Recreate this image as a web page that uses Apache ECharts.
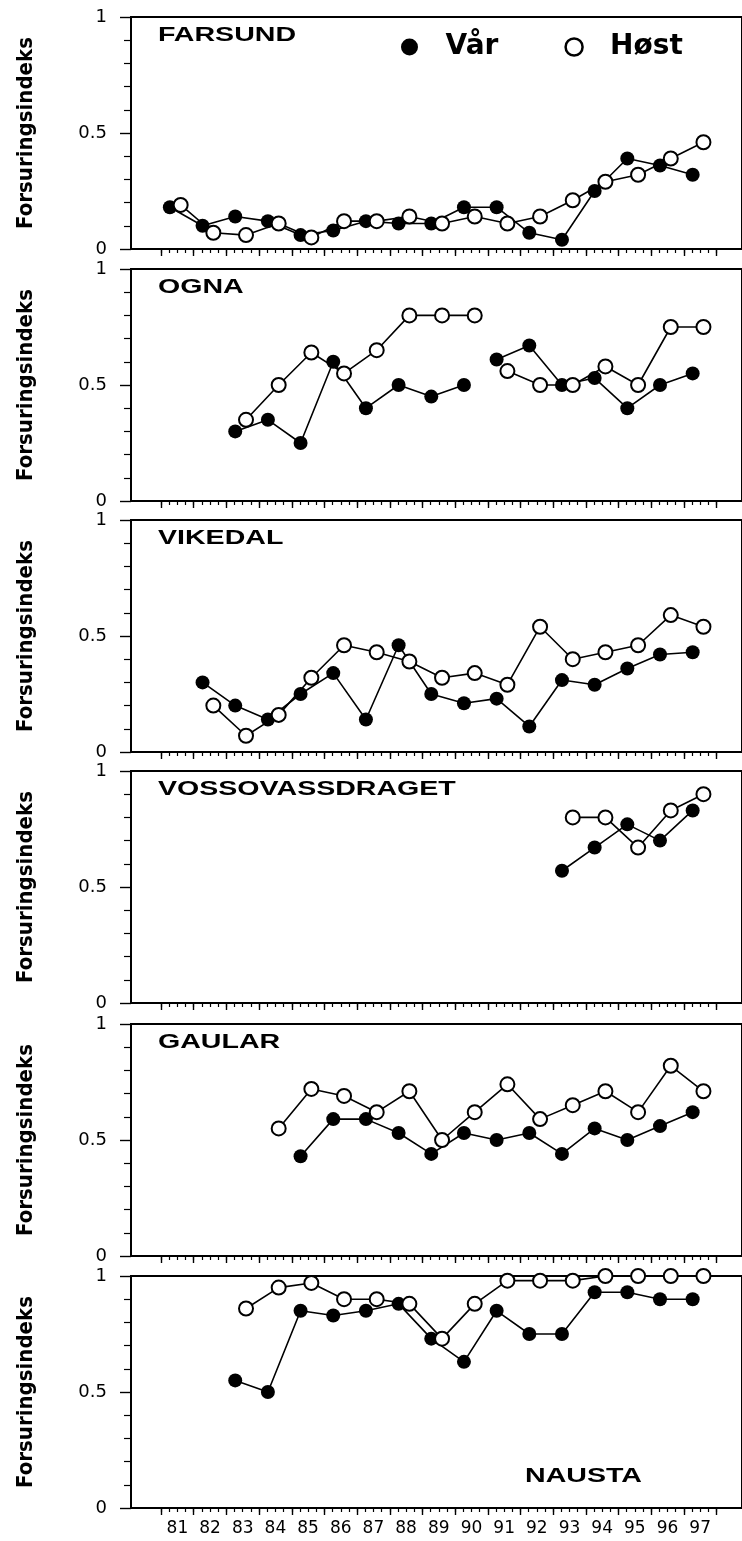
<!DOCTYPE html>
<html>
<head>
<meta charset="utf-8">
<script src="https://cdn.jsdelivr.net/npm/echarts@6.0.0/dist/echarts.min.js"></script>
<style>
  html, body { margin: 0; padding: 0; background: #fff; }
  #chart { width: 742px; height: 1541px; }
</style>
</head>
<body>
<div id="chart"></div>
<script>
// prøveår, en verdi per år (null = ingen prøve)
const years = [1981, 1982, 1983, 1984, 1985, 1986, 1987, 1988, 1989, 1990, 1991, 1992, 1993, 1994, 1995, 1996, 1997];
const yearLabels = ['81', '82', '83', '84', '85', '86', '87', '88', '89', '90', '91', '92', '93', '94', '95', '96', '97'];

// vår-prøve tidlig i året, høst-prøve senere
const varOffset = 0.27;
const hostOffset = 0.6;

const farsundVar  = [0.18, 0.10, 0.14, 0.12, 0.06, 0.08, 0.12, 0.11, 0.11, 0.18, 0.18, 0.07, 0.04, 0.25, 0.39, 0.36, 0.32];
const farsundHost = [0.19, 0.07, 0.06, 0.11, 0.05, 0.12, 0.12, 0.14, 0.11, 0.14, 0.11, 0.14, 0.21, 0.29, 0.32, 0.39, 0.46];

const ognaVar  = [null, null, 0.30, 0.35, 0.25, 0.60, 0.40, 0.50, 0.45, 0.50, 0.61, 0.67, 0.50, 0.53, 0.40, 0.50, 0.55];
const ognaHost = [null, null, 0.35, 0.50, 0.64, 0.55, 0.65, 0.80, 0.80, 0.80, 0.56, 0.50, 0.50, 0.58, 0.50, 0.75, 0.75];
const ognaGapAfter = 1990; // linja er brutt mellom 90 og 91

const vikedalVar  = [null, 0.30, 0.20, 0.14, 0.25, 0.34, 0.14, 0.46, 0.25, 0.21, 0.23, 0.11, 0.31, 0.29, 0.36, 0.42, 0.43];
const vikedalHost = [null, 0.20, 0.07, 0.16, 0.32, 0.46, 0.43, 0.39, 0.32, 0.34, 0.29, 0.54, 0.40, 0.43, 0.46, 0.59, 0.54];

const vossVar  = [null, null, null, null, null, null, null, null, null, null, null, null, 0.57, 0.67, 0.77, 0.70, 0.83];
const vossHost = [null, null, null, null, null, null, null, null, null, null, null, null, 0.80, 0.80, 0.67, 0.83, 0.90];

const gaularVar  = [null, null, null, null, 0.43, 0.59, 0.59, 0.53, 0.44, 0.53, 0.50, 0.53, 0.44, 0.55, 0.50, 0.56, 0.62];
const gaularHost = [null, null, null, 0.55, 0.72, 0.69, 0.62, 0.71, 0.50, 0.62, 0.74, 0.59, 0.65, 0.71, 0.62, 0.82, 0.71];

const naustaVar  = [null, null, 0.55, 0.50, 0.85, 0.83, 0.85, 0.88, 0.73, 0.63, 0.85, 0.75, 0.75, 0.93, 0.93, 0.90, 0.90];
const naustaHost = [null, null, 0.86, 0.95, 0.97, 0.90, 0.90, 0.88, 0.73, 0.88, 0.98, 0.98, 0.98, 1.00, 1.00, 1.00, 1.00];

const panels = [
  { name: 'FARSUND', vr: farsundVar, hs: farsundHost, gap: null },
  { name: 'OGNA', vr: ognaVar, hs: ognaHost, gap: ognaGapAfter },
  { name: 'VIKEDAL', vr: vikedalVar, hs: vikedalHost, gap: null },
  { name: 'VOSSOVASSDRAGET', vr: vossVar, hs: vossHost, gap: null },
  { name: 'GAULAR', vr: gaularVar, hs: gaularHost, gap: null },
  { name: 'NAUSTA', vr: naustaVar, hs: naustaHost, gap: null }
];

const tops = [17, 269, 520, 771, 1024, 1276];
const panelH = 232;
const xMin = 1980.08, xMax = 1998.78;

// kvartalsstreker og årsstreker på x-aksen
const quarterTicks = [];
const yearTicks = [];
for (let y = 1981; y <= 1998; y++) {
  yearTicks.push(y);
  for (let q = 0; q < 4 && !(y === 1998 && q > 0); q++) quarterTicks.push(y + q * 0.25);
}

function toPoints(vals, offset, gapAfter) {
  const pts = [];
  years.forEach((yr, i) => {
    pts.push([yr + offset, vals[i] == null ? '-' : vals[i]]);
    if (yr === gapAfter) pts.push([yr + 0.8, '-']);
  });
  return pts;
}

const numFont = '"DejaVu Sans", sans-serif';
const grids = [], xAxes = [], yAxes = [], series = [], texts = [];

panels.forEach((p, i) => {
  const last = i === panels.length - 1;
  grids.push({
    left: 131, right: -8, top: tops[i], height: panelH,
    show: true, borderColor: '#000', borderWidth: 2
  });
  xAxes.push({
    type: 'value', gridIndex: i, position: 'bottom', min: xMin, max: xMax,
    axisLine: { show: true, onZero: false, lineStyle: { color: '#000', width: 1.5 } },
    axisTick: { show: true, customValues: quarterTicks, length: 4, lineStyle: { color: '#000', width: 1.2 } },
    axisLabel: {
      show: last,
      customValues: years.map(y => y + 0.5),
      formatter: v => yearLabels[years.indexOf(Math.round(v - 0.5))],
      color: '#000', fontSize: 17, fontFamily: numFont, margin: 12
    },
    splitLine: { show: false }
  });
  xAxes.push({
    type: 'value', gridIndex: i, position: 'bottom', min: xMin, max: xMax,
    axisLine: { show: false, onZero: false },
    axisTick: { show: true, customValues: yearTicks, length: 7, lineStyle: { color: '#000', width: 1.4 } },
    axisLabel: { show: false },
    splitLine: { show: false }
  });
  yAxes.push({
    type: 'value', gridIndex: i, min: 0, max: 1, interval: 0.5,
    name: 'Forsuringsindeks', nameLocation: 'middle', nameRotate: 90, nameGap: 94,
    nameTextStyle: {
      color: '#000', fontSize: 22, fontWeight: 'bold',
      fontFamily: '"Liberation Sans Narrow", "DejaVu Sans Condensed", sans-serif'
    },
    axisLine: { show: true, lineStyle: { color: '#000', width: 1.8 } },
    axisTick: { show: true, length: 11, lineStyle: { color: '#000', width: 1.4 } },
    minorTick: { show: true, splitNumber: 5, length: 7, lineStyle: { color: '#000', width: 1.2 } },
    axisLabel: { color: '#000', fontSize: 18, fontFamily: numFont, margin: 24 },
    splitLine: { show: false }
  });
  series.push({
    name: 'Vår', type: 'line', xAxisIndex: i * 2, yAxisIndex: i,
    data: toPoints(p.vr, varOffset, p.gap),
    symbol: 'circle', symbolSize: 14, showAllSymbol: true, connectNulls: false,
    itemStyle: { color: '#000' },
    lineStyle: { color: '#000', width: 1.6 },
    z: 3
  });
  series.push({
    name: 'Høst', type: 'line', xAxisIndex: i * 2, yAxisIndex: i,
    data: toPoints(p.hs, hostOffset, p.gap),
    symbol: 'circle', symbolSize: 14, showAllSymbol: true, connectNulls: false,
    itemStyle: { color: '#fff', borderColor: '#000', borderWidth: 2 },
    lineStyle: { color: '#000', width: 1.6 },
    z: 4
  });
  // elvenavn i panelet (NAUSTA står nede til høyre)
  texts.push({
    type: 'text',
    x: last ? 525 : 158,
    y: last ? 1476 : tops[i] + 18,
    scaleX: 1.36,
    style: {
      text: p.name, fill: '#000', verticalAlign: 'middle',
      font: 'bold 21px "Liberation Sans", Arial, sans-serif'
    },
    z: 10
  });
});

const chart = echarts.init(document.getElementById('chart'));
chart.setOption({
  backgroundColor: '#fff',
  animation: false,
  legend: {
    left: 396, top: 28,
    selectedMode: false,
    icon: 'circle',
    itemWidth: 62, itemHeight: 17, itemGap: 66,
    textStyle: { color: '#000', fontSize: 28, fontWeight: 'bold', fontFamily: numFont },
    data: [
      { name: 'Vår', itemStyle: { color: '#000' } },
      { name: 'Høst', itemStyle: { color: '#fff', borderColor: '#000', borderWidth: 2.5 } }
    ]
  },
  grid: grids,
  xAxis: xAxes,
  yAxis: yAxes,
  series: series,
  graphic: texts
});
</script>
</body>
</html>
